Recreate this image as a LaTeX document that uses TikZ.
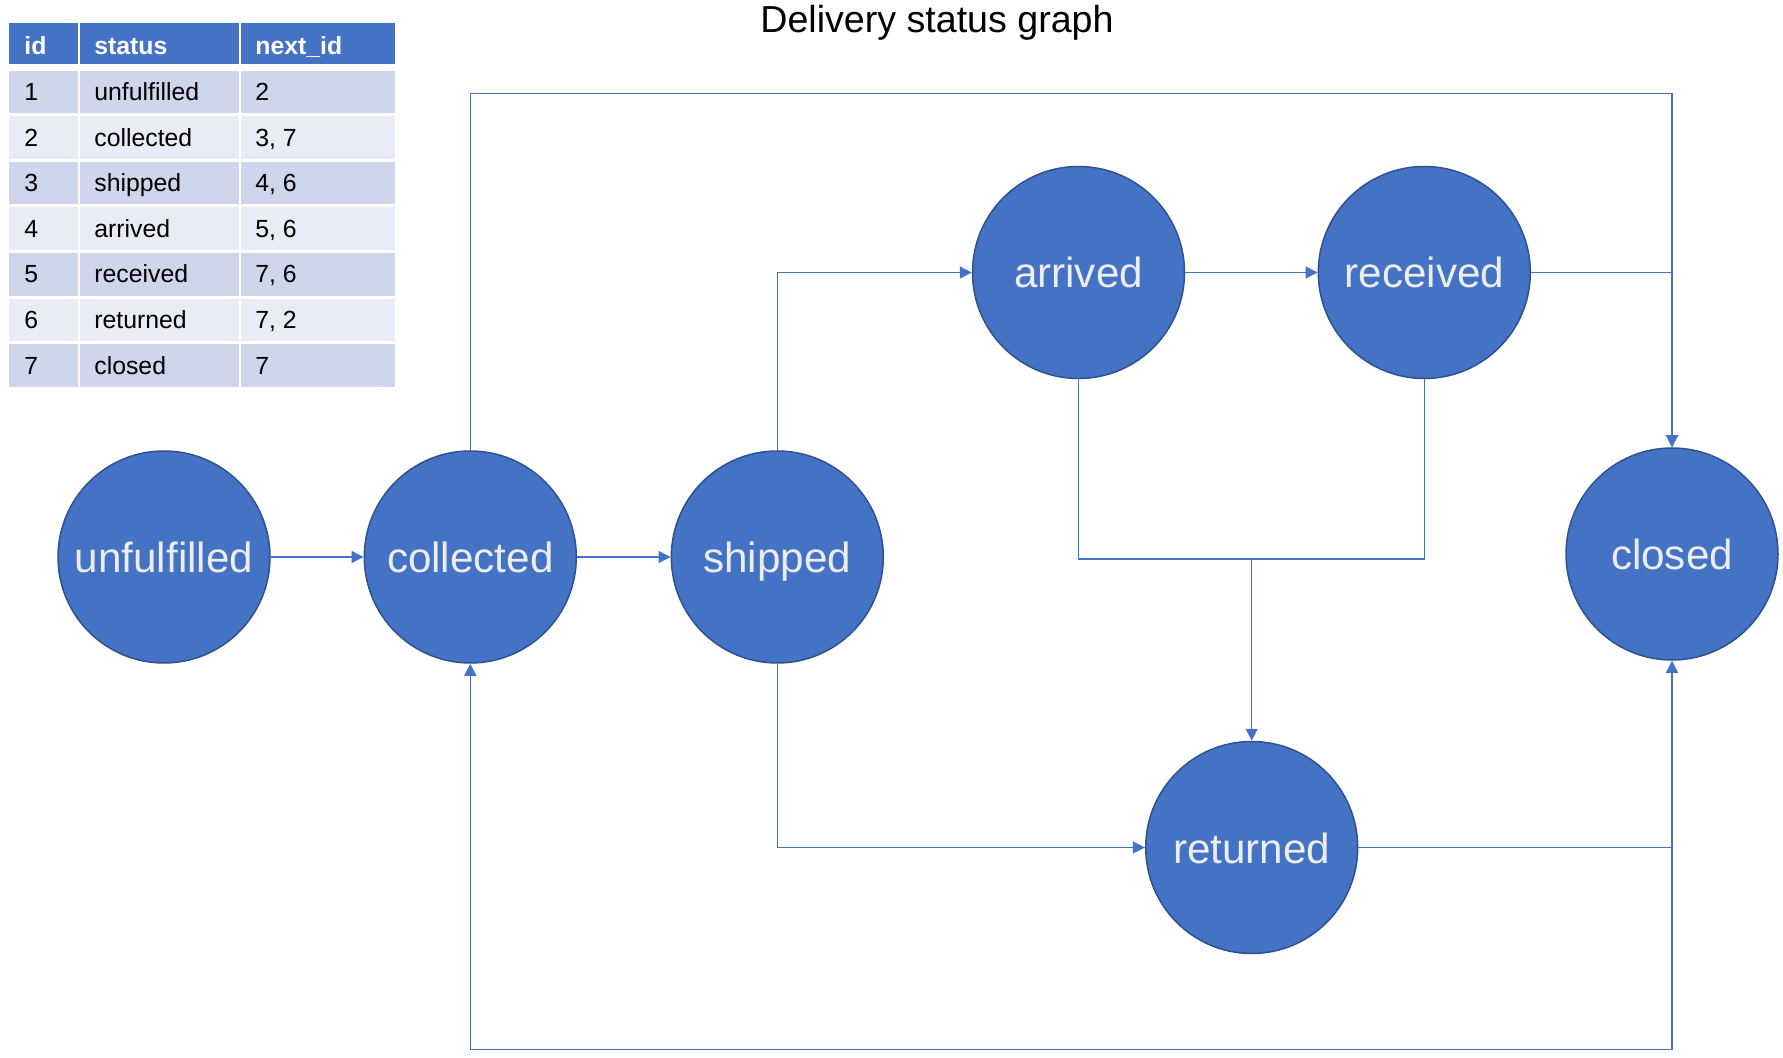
\documentclass[tikz,border=0pt]{standalone}
\usepackage{fontspec}
\setmainfont{Liberation Sans}
\usetikzlibrary{arrows.meta}
\definecolor{acc}{HTML}{4472C4}
\definecolor{accdark}{HTML}{2F528F}
\definecolor{rowa}{HTML}{CFD5EA}
\definecolor{rowb}{HTML}{E9EBF5}
\definecolor{ctext}{HTML}{EDEDED}
\tikzset{
  state/.style={circle, fill=acc, draw=accdark, line width=0.75pt, minimum size=106pt, inner sep=0pt,
    text=ctext, font=\fontsize{21.1}{25}\selectfont, text height=1.75em, text depth=0.2em},
  conn/.style={draw=acc, line width=0.6pt},
  edge/.style={conn, -{Triangle[length=6pt,width=6pt]}},
  celltext/.style={anchor=base west, inner sep=0pt, font=\fontsize{12.4}{15}\selectfont},
  headtext/.style={celltext, text=white, font=\fontsize{12.4}{15}\selectfont\bfseries},
}
\begin{document}
\begin{tikzpicture}[x=0.5pt,y=-0.5pt]
\useasboundingbox (0,0) rectangle (1783,1058);
% title
\node[anchor=base, inner sep=0pt, font=\fontsize{18.8}{22}\selectfont] (title) at (937,32.7) {Delivery status graph};
% table header
\fill[acc] (9,22.7) rectangle (77.5,64);
\fill[acc] (79.5,22.7) rectangle (239,64);
\fill[acc] (241,22.7) rectangle (395,64);
\node[headtext] (h1) at (24,55) {id};
\node[headtext] (h2) at (94,55) {status};
\node[headtext] (h3) at (255,55) {next\_id};
% table rows
\foreach \i/\sa/\sb/\sc/\col in {0/1/unfulfilled/2/rowa, 1/2/collected/{3, 7}/rowb, 2/3/shipped/{4, 6}/rowa, 3/4/arrived/{5, 6}/rowb, 4/5/received/{7, 6}/rowa, 5/6/returned/{7, 2}/rowb, 6/7/closed/7/rowa}{
  \pgfmathsetmacro{\ty}{70.6+45.6*\i}
  \pgfmathsetmacro{\by}{\ty+42.6}
  \pgfmathsetmacro{\bl}{\ty+30}
  \fill[\col] (9,\ty) rectangle (77.5,\by);
  \fill[\col] (79.5,\ty) rectangle (239,\by);
  \fill[\col] (241,\ty) rectangle (395,\by);
  \node[celltext] (ca\i) at (24,\bl) {\sa};
  \node[celltext] (cb\i) at (94,\bl) {\sb};
  \node[celltext] (cc\i) at (255,\bl) {\sc};
}
% states
\node[state] (u) at (164,557) {unfulfilled};
\node[state] (c) at (470.3,557) {collected};
\node[state] (s) at (777.3,557) {shipped};
\node[state] (a) at (1078.5,272.5) {arrived};
\node[state] (r) at (1424.3,272.5) {received};
\node[state] (x) at (1672,554) {closed};
\node[state] (t) at (1251.7,847.5) {returned};
% helper coordinates
\coordinate (ytop) at (0,93.7);
\coordinate (yjn) at (0,559);
\coordinate (ybot) at (0,1049.7);
\coordinate (jn) at (t.north |- yjn);
% connectors
\draw[edge] (u.east) -- (c.west);
\draw[edge] (c.east) -- (s.west);
\draw[edge] (c.north) |- (x.north |- ytop) -- (x.north);
\draw[edge] (s.north) |- (a.west);
\draw[edge] (a.east) -- (r.west);
\draw[edge] (r.east) -| (x.north);
\draw[conn] (a.south) |- (jn);
\draw[conn] (r.south) |- (jn);
\draw[edge] (jn) -- (t.north);
\draw[edge] (s.south) |- (t.west);
\draw[edge] (t.east) -| (x.south);
\draw[edge] (t.east) -| (x.south |- ybot) -| (c.south);
\end{tikzpicture}
\end{document}
